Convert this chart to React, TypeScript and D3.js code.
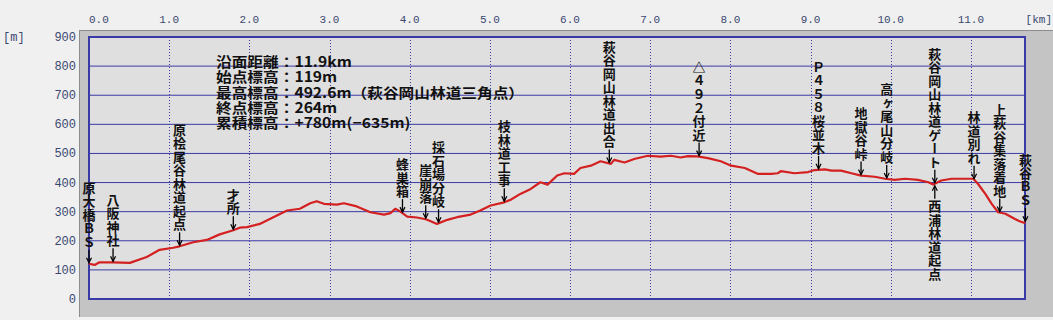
import React from "react";
import * as d3 from "d3";

// ---- data ----
const distKm = [0.00,0.07,0.13,0.30,0.51,0.72,0.88,1.05,1.13,1.30,1.47,1.63,1.80,1.88,1.97,2.13,2.30,2.47,2.63,2.76,2.84,2.93,3.09,3.18,3.34,3.51,3.68,3.76,3.82,3.88,3.97,4.09,4.20,4.27,4.34,4.47,4.59,4.76,4.88,5.01,5.18,5.26,5.38,5.51,5.63,5.72,5.84,5.93,6.05,6.13,6.26,6.38,6.51,6.55,6.68,6.80,6.97,7.13,7.26,7.38,7.47,7.59,7.72,7.88,8.01,8.18,8.34,8.51,8.59,8.63,8.80,8.97,9.05,9.18,9.26,9.38,9.51,9.63,9.80,9.93,10.05,10.18,10.34,10.47,10.53,10.63,10.76,10.88,11.03,11.09,11.18,11.26,11.34,11.43,11.55,11.60,11.66,11.68];
const elevM = [121,117,126,126,124,144,169,176,181,195,203,222,236,245,247,258,281,304,310,329,336,327,324,329,318,298,290,295,310,301,283,280,274,266,258,272,281,290,304,321,332,341,361,378,401,393,424,432,430,450,458,473,464,478,469,481,492,489,492,486,491,490,484,473,458,450,430,430,432,439,432,436,443,445,441,441,432,424,420,413,409,413,409,401,393,407,413,413,413,395,361,327,298,293,275,268,262,264];

const xTicks = [0,1,2,3,4,5,6,7,8,9,10,11];
const xTickLabels = ["0.0","1.0","2.0","3.0","4.0","5.0","6.0","7.0","8.0","9.0","10.0","11.0"];
const yTicks = [0,100,200,300,400,500,600,700,800,900];

const infoLines = [
  "沿面距離：11.9km",
  "始点標高：119m",
  "最高標高：492.6m（萩谷岡山林道三角点）",
  "終点標高：264m",
  "累積標高：+780m(−635m)",
];

const landmarkNames = ["原大橋ＢＳ","八阪神社","原桧尾谷林道起点","才所","蜂巣箱","崖崩落","採石場分岐","枝林道工事","萩谷岡山林道出合","△４９２付近","Ｐ４５８桜並木","地獄谷峠","高ヶ尾山分岐","萩谷岡山林道ゲート","西浦林道起点","林道別れ","上萩谷集落着地","萩谷ＢＳ"];
const landmarkKm = [0.0,0.30,1.13,1.80,3.91,4.20,4.36,5.18,6.49,7.61,9.10,9.63,9.95,10.55,10.55,11.04,11.36,11.68];
const landmarkBelow = [false,false,false,false,false,false,false,false,false,false,false,false,false,false,true,false,false,false];

// ---- layout ----
const W = 1053, H = 320;
const PL = 89, PR = 1025, PT = 37, PB = 299;

export default function App() {
  const x = d3.scaleLinear().domain([0, 11.675]).range([PL, PR]);
  const y = d3.scaleLinear().domain([0, 900]).range([PB, PT]);
  const pts: [number, number][] = distKm.map((d, i) => [d, elevM[i]]);
  const line = d3.line<[number, number]>().x(d => x(d[0])).y(d => y(d[1]));
  const interp = (km: number) => {
    const i = d3.bisector((d: number) => d).left(distKm, km);
    if (i <= 0) return elevM[0];
    if (i >= distKm.length) return elevM[elevM.length - 1];
    const t = (km - distKm[i - 1]) / (distKm[i] - distKm[i - 1]);
    return elevM[i - 1] + t * (elevM[i] - elevM[i - 1]);
  };
  const step = 13.5;
  const fs = 13;
  const arrowLen = 14;
  const axisColor = "#3a4870";
  const gridColor = "#3a3aa6";

  return (
    <svg width={W} height={H} style={{ position: "absolute", left: 0, top: 0, background: "#f0f0f0" }}>
      {/* panel bevel */}
      <rect x={79} y={30} width={W - 79} height={287} fill="#c4c4c4" />
      <line x1={79.5} y1={30} x2={79.5} y2={317} stroke="#8c8c8c" />
      <line x1={79} y1={30.5} x2={W} y2={30.5} stroke="#8c8c8c" />
      <rect x={PL} y={PT} width={PR - PL} height={PB - PT} fill="#dfdfdf" />
      {/* horizontal grid */}
      {yTicks.filter(t => t > 0 && t < 900).map(t => (
        <line key={"h" + t} x1={PL} x2={PR} y1={y(t)} y2={y(t)} stroke={gridColor} strokeWidth={1} />
      ))}
      {/* vertical dotted grid */}
      {xTicks.filter(t => t > 0).map(t => (
        <line key={"v" + t} x1={Math.round(x(t)) + 0.5} x2={Math.round(x(t)) + 0.5} y1={PT} y2={PB} stroke={gridColor} strokeWidth={1} strokeDasharray="1,2" />
      ))}
      {/* border */}
      <rect x={PL} y={PT} width={PR - PL} height={PB - PT} fill="none" stroke={gridColor} strokeWidth={2} />

      {/* axis labels */}
      {xTicks.map((t, i) => (
        <text key={"xt" + t} x={x(t)} y={23} fontFamily="Liberation Mono, DejaVu Sans Mono, monospace" fontSize={11} fill={axisColor} textAnchor={i === 0 ? "start" : "middle"}>{xTickLabels[i]}</text>
      ))}
      <text x={1052} y={23} fontFamily="Liberation Mono, monospace" fontSize={11} fill={axisColor} textAnchor="end">[km]</text>
      {yTicks.map(t => (
        <text key={"yt" + t} x={76} y={y(t) + 4} fontFamily="Liberation Mono, DejaVu Sans Mono, monospace" fontSize={12} fill={axisColor} textAnchor="end">{t}</text>
      ))}
      <text x={3} y={41} fontFamily="Liberation Mono, monospace" fontSize={12} fill={axisColor}>[m]</text>

      {/* info */}
      <text transform="translate(216,67) scale(1.12,1)" fontFamily="Noto Sans CJK JP, sans-serif" fontWeight={700} fontSize={14} fill="#111">
        {infoLines.map((s, i) => (
          <tspan key={"info" + i} x={0} y={i * 15.3}>{s}</tspan>
        ))}
      </text>

      {/* profile */}
      <path d={line(pts) || ""} fill="none" stroke="#d42020" strokeWidth={2.2} strokeLinejoin="round" />

      {/* landmarks */}
      {landmarkNames.map((name, li) => {
        const km = landmarkKm[li];
        const cx = x(km);
        const ly = y(interp(km));
        const n = Array.from(name).length;
        const below = landmarkBelow[li];
        const tip = below ? ly + 2 : ly - 1;
        const textTop = below ? tip + arrowLen : tip - arrowLen - n * step;
        const tail = below ? tip + arrowLen - 1 : tip - arrowLen + 1;
        const head = below ? 5 : -5;
        return (
          <g key={"lm" + li}>
            <line x1={cx} x2={cx} y1={tail} y2={tip} stroke="#000" strokeWidth={1.3} />
            <path d={`M${cx - 2.5},${tip + head} L${cx},${tip} L${cx + 2.5},${tip + head}`} fill="none" stroke="#000" strokeWidth={1.2} />
            <text x={cx} y={textTop} fontFamily="Noto Sans CJK JP, sans-serif" fontWeight={700} fontSize={fs} fill="#111"
              style={{ writingMode: "vertical-rl", letterSpacing: `${step - fs}px` } as React.CSSProperties}>{name}</text>
          </g>
        );
      })}
    </svg>
  );
}
